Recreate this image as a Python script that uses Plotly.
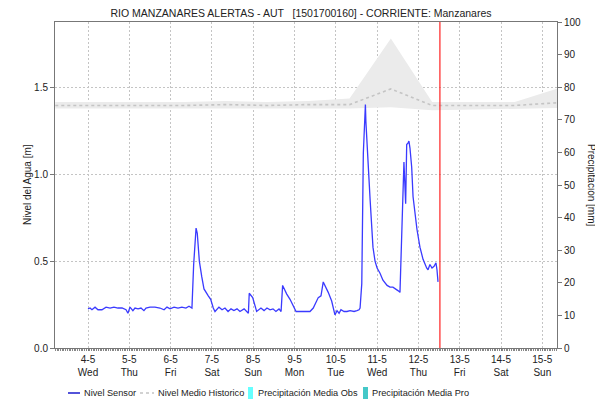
import pandas as pd
import plotly.graph_objects as go

BASE = pd.Timestamp("2022-05-04 00:00")

# Sensor level: hours since 4-5 00:00, level [m]
sensor_hours = [0, 1.2, 2.3, 4.1, 5.8, 8.1, 10.5, 12.8, 15.1, 17.4, 19.8, 22.1, 23.2, 24.4, 26.1,
                27.3, 29.1, 30.8, 32.5, 33.7, 36.0, 38.9, 41.8, 44.2, 45.9, 47.7, 50.0, 52.3, 54.6,
                56.9, 58.7, 60.4, 61.4, 62.2, 62.8, 63.5, 64.7, 66.1, 67.4, 69.9, 71.3, 72.8, 73.8,
                76.1, 77.9, 79.6, 81.4, 83.1, 84.8, 86.6, 88.3, 90.7, 92.4, 93.2, 93.7, 95.7, 98.0,
                100.5, 102.3, 104.0, 105.8, 107.5, 109.2, 111.0, 112.2, 113.1, 115.5, 117.4, 120.9,
                123.2, 126.1, 129.0, 130.9, 133.8, 135.4, 136.7, 139.6, 141.6, 143.5, 144.7, 145.9,
                147.0, 148.8, 150.5, 152.3, 154.6, 156.3, 157.5, 158.1, 159.1, 160.0, 161.2, 161.5,
                162.1, 162.7, 163.3, 163.9, 164.9, 165.6, 166.8, 168.0, 169.7, 171.4, 173.8, 175.5,
                177.2, 179.0, 180.1, 181.3, 182.3, 183.1, 183.6, 184.6, 185.2, 186.0, 186.5, 187.1,
                188.1, 188.9, 190.0, 191.2, 192.9, 194.7, 196.8, 197.6, 198.7, 199.9, 201.1, 202.2,
                202.8, 203.4]
sensor_level = [0.225, 0.23, 0.22, 0.235, 0.22, 0.22, 0.235, 0.23, 0.235, 0.23, 0.23, 0.22, 0.20, 0.235, 0.215,
                0.23, 0.225, 0.23, 0.215, 0.23, 0.235, 0.235, 0.23, 0.22, 0.235, 0.225, 0.235, 0.23, 0.235,
                0.23, 0.24, 0.23, 0.48, 0.64, 0.69, 0.66, 0.50, 0.41, 0.34, 0.30, 0.28, 0.23, 0.21,
                0.235, 0.22, 0.23, 0.21, 0.225, 0.215, 0.225, 0.21, 0.225, 0.21, 0.20, 0.315, 0.29, 0.21,
                0.23, 0.215, 0.23, 0.22, 0.225, 0.21, 0.225, 0.21, 0.36, 0.31, 0.28, 0.21,
                0.21, 0.21, 0.21, 0.23, 0.29, 0.30, 0.38, 0.32, 0.27, 0.19, 0.215, 0.20,
                0.22, 0.21, 0.21, 0.215, 0.21, 0.215, 0.22, 0.23, 0.37, 1.12, 1.40, 1.30,
                1.16, 1.05, 0.97, 0.86, 0.66, 0.58, 0.50, 0.46, 0.43, 0.39, 0.36, 0.35,
                0.35, 0.34, 0.33, 0.32, 0.60, 0.91, 1.07, 0.83, 1.17, 1.18, 1.19, 1.15,
                1.04, 0.87, 0.76, 0.68, 0.58, 0.51, 0.46, 0.45, 0.48, 0.46, 0.47, 0.49,
                0.45, 0.38]

# Historic level: hours since 4-5 00:00
hist_hours = [-19, 8, 32, 56, 80, 104, 128, 152, 176, 200, 224, 248, 272, 273]
hist_mean = [1.395, 1.395, 1.395, 1.395, 1.40, 1.395, 1.40, 1.40, 1.49, 1.395, 1.395, 1.395, 1.41, 1.41]
hist_min = [1.377, 1.377, 1.377, 1.377, 1.378, 1.377, 1.377, 1.377, 1.385, 1.368, 1.372, 1.377, 1.38, 1.38]
hist_max = [1.415, 1.415, 1.415, 1.415, 1.42, 1.415, 1.42, 1.435, 1.78, 1.415, 1.415, 1.415, 1.49, 1.49]

tick_days = ["4-5", "5-5", "6-5", "7-5", "8-5", "9-5", "10-5", "11-5", "12-5", "13-5", "14-5", "15-5"]
tick_wd = ["Wed", "Thu", "Fri", "Sat", "Sun", "Mon", "Tue", "Wed", "Thu", "Fri", "Sat", "Sun"]

legend_names = ["Nivel Sensor", "Nivel Medio Historico", "Precipitación Media Obs", "Precipitación Media Pro"]
legend_colors = ["#1a1acc", "#c4c4c4", "#66ffff", "#44c8c8"]

now_hours = 204.5

def t(hs):
    return [BASE + pd.Timedelta(hours=h) for h in hs]

FONT = "Liberation Sans, Arial, sans-serif"
TXT = "#222"
OFF = 8  # page body margin

fig = go.Figure()
fig.add_trace(go.Scatter(x=t(hist_hours), y=hist_min, mode="lines", line=dict(width=0, color="#ebebeb"),
                         showlegend=False, hoverinfo="skip"))
fig.add_trace(go.Scatter(x=t(hist_hours), y=hist_max, mode="lines", line=dict(width=0, color="#ebebeb"),
                         fill="tonexty", fillcolor="#ebebeb", showlegend=False, hoverinfo="skip"))
fig.add_trace(go.Scatter(x=t(sensor_hours), y=sensor_level, mode="lines", name=legend_names[0],
                         line=dict(color="#3a3aff", width=1.3), showlegend=False))
fig.add_trace(go.Scatter(x=t(hist_hours), y=hist_mean, mode="lines", name=legend_names[1],
                         line=dict(color="#c4c4c4", width=1.6, dash="3px,3px"), showlegend=False))
fig.add_trace(go.Bar(x=[None], y=[None], yaxis="y2", name=legend_names[2], marker_color=legend_colors[2],
                     showlegend=False))
fig.add_trace(go.Bar(x=[None], y=[None], yaxis="y2", name=legend_names[3], marker_color=legend_colors[3],
                     showlegend=False))

# "now" line
fig.add_shape(type="line", x0=BASE + pd.Timedelta(hours=now_hours), x1=BASE + pd.Timedelta(hours=now_hours),
              y0=0, y1=1, yref="paper", line=dict(color="#ff2020", width=1.2))

# Manual legend (paper coords; plot area 55..557 x 22..348 px on the page)
def px(x):
    return (x - 55) / 502.0

def py(y):
    return (348 - y) / 326.0

LY = 393
fig.add_shape(type="line", xref="paper", yref="paper", x0=px(68), x1=px(80), y0=py(LY), y1=py(LY),
              line=dict(color=legend_colors[0], width=1.5))
fig.add_shape(type="line", xref="paper", yref="paper", x0=px(140), x1=px(154), y0=py(LY), y1=py(LY),
              line=dict(color=legend_colors[1], width=1.5, dash="3px,3px"))
fig.add_shape(type="rect", xref="paper", yref="paper", x0=px(248), x1=px(253), y0=py(387), y1=py(399),
              line=dict(width=0), fillcolor=legend_colors[2])
fig.add_shape(type="rect", xref="paper", yref="paper", x0=px(363), x1=px(368), y0=py(387), y1=py(399),
              line=dict(width=0), fillcolor=legend_colors[3])
for name, xs in zip(legend_names, [83, 157, 257, 371]):
    fig.add_annotation(text=name, x=px(xs), y=py(LY), xref="paper", yref="paper", xanchor="left",
                       yanchor="middle", showarrow=False, borderpad=0,
                       font=dict(size=9.2, color=TXT, family=FONT))

fig.add_annotation(text="Nivel del Agua [m]", x=px(27), y=0.5, xref="paper", yref="paper", textangle=-90,
                   xanchor="center", yanchor="middle",
                   showarrow=False, font=dict(size=10, color=TXT, family=FONT))
fig.add_annotation(text="Precipitación [mm]", x=px(592), y=0.5, xref="paper", yref="paper", textangle=90,
                   xanchor="center", yanchor="middle",
                   showarrow=False, font=dict(size=10, color=TXT, family=FONT))

W, H = 603 - OFF, 401 - OFF
fig.update_layout(
    width=W, height=H,
    margin=dict(l=55 - OFF, r=46, t=22 - OFF, b=53),
    paper_bgcolor="white", plot_bgcolor="white",
    font=dict(family=FONT, size=10, color=TXT),
    title=dict(text="RIO MANZANARES ALERTAS - AUT   [1501700160] - CORRIENTE: Manzanares",
               x=(301 - OFF) / W, xanchor="center", y=1 - (13.5 - OFF) / H, yanchor="middle",
               font=dict(size=10.5, color=TXT)),
    showlegend=False,
    xaxis=dict(type="date", range=[BASE - pd.Timedelta(days=0.799), BASE + pd.Timedelta(days=11.356)],
               tickvals=[BASE + pd.Timedelta(days=i) for i in range(len(tick_days))],
               ticktext=[f"{d}<br>{w}" for d, w in zip(tick_days, tick_wd)],
               showgrid=True, gridcolor="#c4c4c4", griddash="2px,2px", gridwidth=1,
               showline=True, linecolor="#777", linewidth=1, mirror=True,
               ticks="outside", ticklen=2, tickcolor="#777",
               minor=dict(dtick=3600000, ticks="outside", ticklen=2, tickcolor="#888", showgrid=False),
               tickfont=dict(size=10), zeroline=False, automargin=False),
    yaxis=dict(range=[0, 1.875], tickvals=[0, 0.5, 1.0, 1.5], tickformat=".1f",
               showgrid=True, gridcolor="#c4c4c4", griddash="2px,2px", gridwidth=1,
               showline=True, linecolor="#777", linewidth=1, ticks="outside", ticklen=4, tickcolor="#777",
               zeroline=False, automargin=False),
    yaxis2=dict(range=[0, 100], dtick=10, overlaying="y", side="right", showgrid=False,
                showline=True, linecolor="#777", linewidth=1, ticks="outside", ticklen=4, tickcolor="#777",
                zeroline=False, tickfont=dict(size=10), automargin=False),
    bargap=0,
)

fig.write_html("out.html")
